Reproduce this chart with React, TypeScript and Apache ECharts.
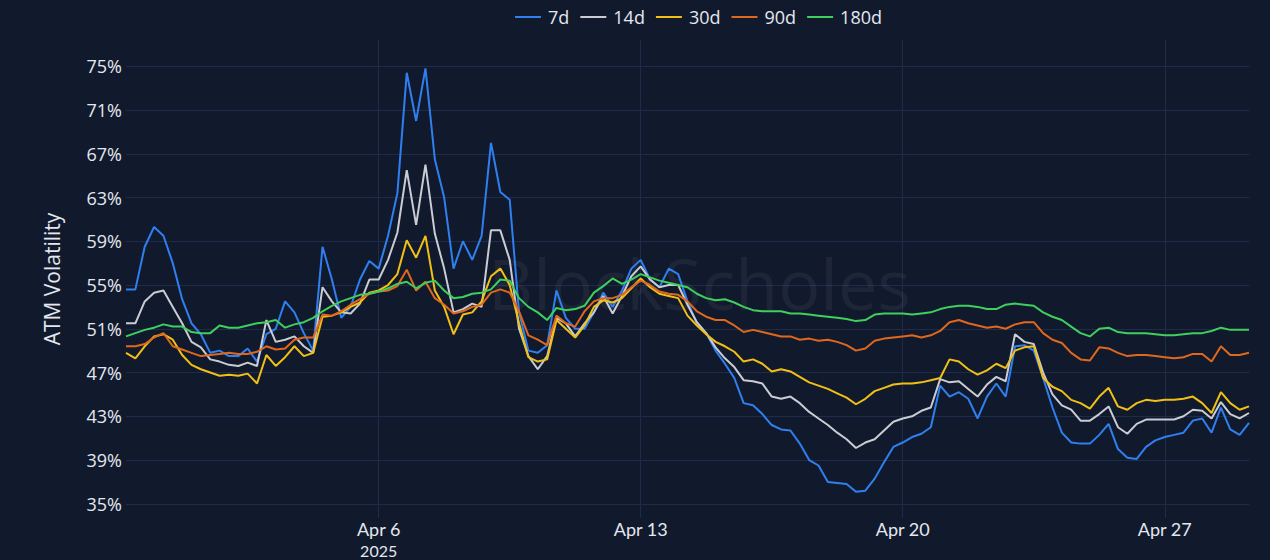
import React, { useEffect, useRef } from "react";
import * as echarts from "echarts";

const SERIES_NAMES = ["7d", "14d", "30d", "90d", "180d"];
const COLORS = ["#2f7ff0", "#c9ccd3", "#f2c014", "#e0681c", "#3fcf5c"];
const START = new Date(2025, 2, 30, 6, 0, 0).getTime();
const STEP_HOURS = 6;
const Y_TICKS = [35, 39, 43, 47, 51, 55, 59, 63, 67, 71, 75];
const X_TICK_DAYS = [6, 13, 20, 27]; // April 2025
const X_TICK_YEAR_LABEL = "2025";

const vol7d = [
  54.6, 54.6, 58.5, 60.3, 59.5, 57, 53.7, 51.5, 50.5, 48.8,
  49, 48.5, 48.5, 49.2, 48, 50.5, 51, 53.5, 52.5, 50.6,
  49, 58.5, 55.5, 52, 53, 55.5, 57.2, 56.5, 59.5, 63.4,
  74.4, 70, 74.8, 66.5, 63, 56.5, 59, 57.3, 59.5, 68,
  63.5, 62.8, 52.5, 49, 48.8, 49.5, 54.5, 52, 51, 51,
  52.5, 54.3, 53, 54.5, 56.5, 57.3, 55.5, 54.8, 56.5, 56,
  53.5, 51.5, 50.6, 49, 47.8, 46.5, 44.2, 44, 43.2, 42.2,
  41.8, 41.7, 40.5, 39, 38.5, 37, 36.9, 36.8, 36.1, 36.2,
  37.3, 38.8, 40.2, 40.6, 41.1, 41.4, 42, 45.8, 44.8, 45.2,
  44.6, 42.8, 44.8, 46, 44.8, 49.4, 49.5, 49, 46.5, 43.8,
  41.5, 40.6, 40.5, 40.5, 41.3, 42.3, 40, 39.2, 39.1, 40.2,
  40.8, 41.1, 41.3, 41.5, 42.6, 42.8, 41.5, 43.8, 41.8, 41.3,
  42.4,
];

const vol14d = [
  51.5, 51.5, 53.5, 54.3, 54.5, 53, 51.5, 49.8, 49.3, 48.2,
  48, 47.7, 47.6, 47.9, 47.6, 51.8, 49.8, 50, 50.3, 49.4,
  48.8, 54.8, 53.5, 52.5, 52.4, 53.3, 55.5, 55.5, 57.3, 59.8,
  65.5, 60.5, 66, 59.7, 56.5, 52.5, 52.8, 53.3, 53, 60,
  60, 57.3, 51, 48.5, 47.3, 48.5, 52, 51.5, 50.3, 51.5,
  52.5, 54, 52.4, 54, 55.8, 56.7, 55.5, 54.8, 55, 55,
  53.2, 51.6, 50.6, 49.3, 48.3, 47.5, 46.3, 46.2, 46, 44.8,
  44.6, 44.8, 44.2, 43.4, 42.8, 42.2, 41.5, 40.9, 40.1, 40.6,
  40.9, 41.7, 42.5, 42.8, 43, 43.5, 43.8, 46.4, 46.1, 46.2,
  45.5, 44.8, 45.9, 46.6, 46.2, 50.5, 49.8, 49.6, 47, 45,
  44, 43.6, 42.6, 42.6, 43.2, 43.9, 42, 41.4, 42.3, 42.7,
  42.7, 42.7, 42.7, 43, 43.6, 43.5, 42.8, 44.3, 43.2, 42.8,
  43.3,
];

const vol30d = [
  48.8, 48.3, 49.4, 50.3, 50.5, 50, 48.6, 47.7, 47.3, 47,
  46.7, 46.8, 46.7, 46.9, 46, 48.6, 47.6, 48.4, 49.4, 48.5,
  48.8, 52.1, 52.2, 52.5, 53, 53.4, 54.3, 54.5, 55, 56,
  59.1, 57.5, 59.5, 54.5, 53, 50.5, 52.3, 52.5, 53.5, 55.8,
  56.5, 55, 51.5, 48.4, 48, 48.2, 51.8, 51, 50.2, 51.3,
  53, 53.6, 53.4, 53.8, 54.7, 55.6, 54.8, 54.2, 54, 53.8,
  52.2, 51.3, 50.5, 49.8, 49.4, 48.9, 48, 48.2, 47.8, 47.1,
  47.3, 47.1, 46.6, 46.1, 45.8, 45.5, 45.1, 44.7, 44.1, 44.6,
  45.3, 45.6, 45.9, 46, 46, 46.1, 46.3, 46.5, 48.2, 48,
  47.3, 46.8, 47.2, 47.8, 47.4, 49, 49.3, 49.4, 46.5, 45.7,
  45.3, 44.5, 44.2, 43.7, 44.8, 45.6, 43.9, 43.6, 44.2, 44.5,
  44.4, 44.5, 44.5, 44.6, 44.8, 44.2, 43.3, 45.2, 44.2, 43.6,
  43.9,
];

const vol90d = [
  49.4, 49.4, 49.6, 50.2, 50.6, 49.4, 49.1, 48.8, 48.5, 48.6,
  48.7, 48.8, 48.7, 48.7, 48.9, 49.4, 49.1, 49.2, 50, 50.2,
  50.2, 52.3, 52.2, 52.6, 53.2, 53.7, 54.2, 54.4, 54.5, 54.9,
  56.4, 54.5, 55.3, 53.8, 53.2, 52.4, 52.6, 53, 53.2, 54.3,
  54.6, 54.3, 52.6, 50.4, 50, 49.5, 52.2, 51.5, 51.2, 52.6,
  53.5, 53.8, 53.8, 54.1, 54.8, 55.4, 55, 54.4, 54.2, 54.1,
  53.5, 52.6, 52.1, 51.8, 51.8, 51.3, 50.7, 50.9, 50.7, 50.5,
  50.3, 50.3, 50, 50.1, 49.9, 50, 49.8, 49.5, 49, 49.2,
  49.9, 50.1, 50.2, 50.3, 50.4, 50.2, 50.4, 50.8, 51.6, 51.8,
  51.5, 51.3, 51.1, 51.2, 51, 51.4, 51.6, 51.6, 50.6, 50,
  49.7, 48.8, 48.2, 48.1, 49.3, 49.2, 48.8, 48.5, 48.6, 48.6,
  48.5, 48.4, 48.3, 48.4, 48.7, 48.7, 48, 49.4, 48.6, 48.6,
  48.8,
];

const vol180d = [
  50.3, 50.6, 50.9, 51.1, 51.4, 51.2, 51.2, 50.7, 50.6, 50.6,
  51.3, 51.1, 51.1, 51.3, 51.5, 51.6, 51.8, 51.1, 51.4, 51.6,
  52, 52.6, 53.1, 53.5, 53.8, 54.1, 54.2, 54.4, 54.7, 55.1,
  55.3, 54.7, 55.2, 55.4, 54.5, 53.8, 53.9, 54.2, 54.3, 54.6,
  55.5, 55.4, 53.8, 53, 52.5, 51.8, 52.9, 52.7, 52.8, 53.1,
  54.3, 54.9, 55.6, 55.1, 55.5, 56, 55.7, 55.4, 55.2, 55,
  54.8, 54.2, 53.8, 53.6, 53.7, 53.4, 53, 52.7, 52.6, 52.6,
  52.6, 52.4, 52.4, 52.3, 52.2, 52.1, 52, 51.9, 51.7, 51.8,
  52.3, 52.4, 52.4, 52.4, 52.3, 52.4, 52.5, 52.8, 53, 53.1,
  53.1, 53, 52.8, 52.8, 53.2, 53.3, 53.2, 53.1, 52.5, 52.1,
  51.8, 51.2, 50.6, 50.3, 51, 51.1, 50.7, 50.6, 50.6, 50.6,
  50.5, 50.4, 50.4, 50.5, 50.6, 50.6, 50.8, 51.1, 50.9, 50.9,
  50.9,
];

const ALL_SERIES = [vol7d, vol14d, vol30d, vol90d, vol180d];

const FONT = "'Open Sans', 'Noto Sans', sans-serif";
const X_FONT = "Lato, 'Open Sans', sans-serif";
const TEXT_COLOR = "#e4e7ef";
const GRID_COLOR = "#1f2b4b";
const BG = "#111a2d";

export default function App() {
  const ref = useRef<HTMLDivElement>(null);

  useEffect(() => {
    if (!ref.current) return;
    const chart = echarts.init(ref.current, undefined, { renderer: "svg" });
    const stepMs = STEP_HOURS * 3600 * 1000;
    const times = vol7d.map((_, i) => START + i * stepMs);
    const end = times[times.length - 1];
    const xTicks = X_TICK_DAYS.map((d) => new Date(2025, 3, d).getTime());

    const option: any = {
      animation: false,
      backgroundColor: BG,
      textStyle: { fontFamily: FONT },
      grid: {
        left: 126,
        right: 21,
        top: 40,
        bottom: 42,
        containLabel: false,
        outerBoundsMode: "none",
      },
      legend: {
        top: 3,
        left: 510,
        icon: "rect",
        itemWidth: 26,
        itemHeight: 2,
        itemGap: 11,
        textStyle: { color: TEXT_COLOR, fontSize: 18, fontFamily: FONT, padding: [0, 0, 0, 2] },
        data: SERIES_NAMES,
      },
      graphic: [
        {
          id: "watermark",
          type: "text",
          x: 488,
          y: 283,
          z: 1,
          silent: true,
          style: {
            text: "BlockScholes",
            fontSize: 70,
            fontFamily: FONT,
            fill: "rgba(255,255,255,0.05)",
            verticalAlign: "middle",
          },
        },
      ],
      xAxis: {
        type: "value",
        min: START,
        max: end,
        axisLine: { show: false },
        axisTick: { show: false, customValues: xTicks },
        splitLine: { show: true, lineStyle: { color: GRID_COLOR, width: 1 } },
        axisLabel: {
          customValues: xTicks,
          color: TEXT_COLOR,
          fontSize: 18,
          fontFamily: X_FONT,
          margin: 2,
          formatter: (v: number) => "Apr " + new Date(v).getDate(),
        },
      },
      yAxis: {
        type: "value",
        min: 33.7,
        max: 77.4,
        name: "ATM Volatility",
        nameLocation: "middle",
        nameGap: 64,
        nameTextStyle: { color: TEXT_COLOR, fontSize: 21, fontFamily: FONT },
        axisLine: { show: false },
        axisTick: { show: false, customValues: Y_TICKS },
        splitLine: { show: true, lineStyle: { color: GRID_COLOR, width: 1 } },
        axisLabel: {
          customValues: Y_TICKS,
          color: TEXT_COLOR,
          fontSize: 18,
          fontFamily: FONT,
          margin: 4,
          formatter: (v: number) => v + "%",
        },
      },
      series: SERIES_NAMES.map((name, k) => ({
        name,
        type: "line",
        symbol: "none",
        z: 3,
        lineStyle: { color: COLORS[k], width: 2 },
        itemStyle: { color: COLORS[k] },
        data: ALL_SERIES[k].map((v, i) => [times[i], v]),
      })),
    };
    chart.setOption(option);

    // Year sub-label under the first date tick, placed through the axis scale
    const yearX = chart.convertToPixel({ xAxisIndex: 0 }, xTicks[0]) as number;
    chart.setOption({
      graphic: [
        {
          id: "yearLabel",
          type: "text",
          x: yearX,
          y: 550,
          silent: true,
          style: {
            text: X_TICK_YEAR_LABEL,
            fontSize: 16,
            fontFamily: X_FONT,
            fill: TEXT_COLOR,
            align: "center",
            verticalAlign: "middle",
          },
        },
      ],
    });
    return () => chart.dispose();
  }, []);

  return (
    <div
      ref={ref}
      style={{ position: "absolute", left: 0, top: 0, width: 1270, height: 560 }}
    />
  );
}
